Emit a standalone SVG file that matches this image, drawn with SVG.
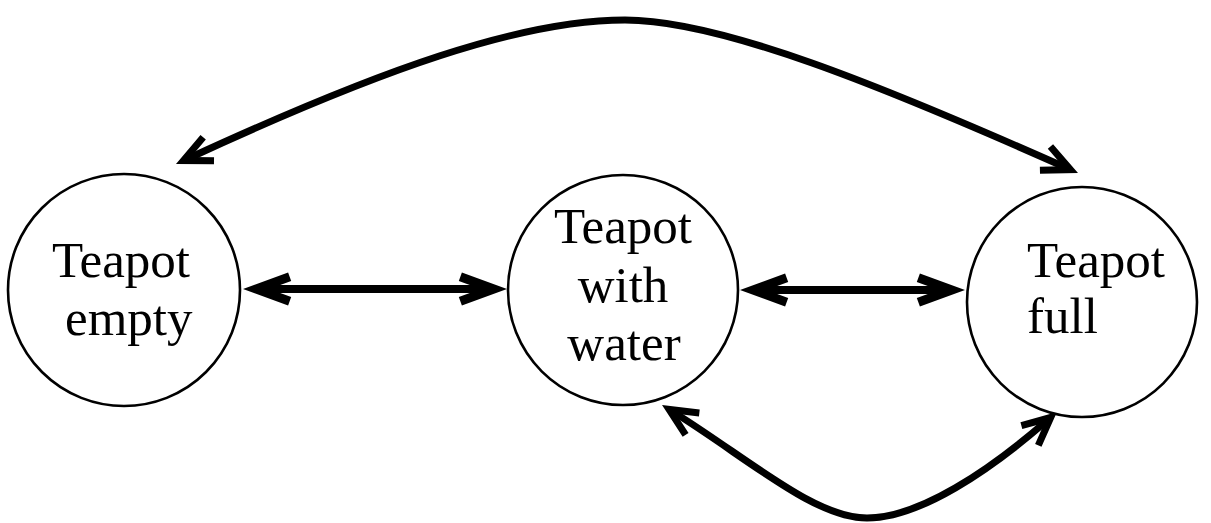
<svg xmlns="http://www.w3.org/2000/svg" width="1211" height="523" viewBox="0 0 1211 523">
<style>
.node circle{fill:#fff;stroke:#000;stroke-width:2.6}
.node text{font-family:"Liberation Serif","Times New Roman",serif;font-size:51px;fill:#000}
.edge{fill:none;stroke:#000}
.thick{stroke-width:8}
.curve{stroke-width:7}
</style>
<defs>
<marker id="ah" markerUnits="userSpaceOnUse" viewBox="-50 -20 52 40" refX="-20" refY="0" markerWidth="52" markerHeight="40" orient="auto-start-reverse">
<path d="M0,0 L-45.1,-16.4 L-48.2,-7.9 L-26.3,0 L-48.2,7.9 L-45.1,16.4 Z" fill="#000"/>
</marker>
<marker id="ah2" markerUnits="userSpaceOnUse" viewBox="-50 -20 52 40" refX="-14" refY="0" markerWidth="52" markerHeight="40" orient="auto-start-reverse">
<path d="M0,0 L-34.4,-16.1 L-37.4,-9.8 L-16.6,0 L-37.4,9.8 L-34.4,16.1 Z" fill="#000"/>
</marker>
</defs>
<g id="connectors">
<line class="edge thick" x1="263" y1="289" x2="487" y2="289" marker-start="url(#ah)" marker-end="url(#ah)"/>
<line class="edge thick" x1="760" y1="290" x2="945" y2="290" marker-start="url(#ah)" marker-end="url(#ah)"/>
<path class="edge curve" d="M188.7,158.2 C380,70 520,20 625,20 C720,20 880,85 1065.2,167.3" marker-start="url(#ah2)" marker-end="url(#ah2)"/>
<path class="edge curve" d="M673.9,412.4 C750,460 815,518 867,518 C920,518 990,470 1046.4,421.2" marker-start="url(#ah2)" marker-end="url(#ah2)"/>
</g>
<g id="node-empty" class="node">
<circle cx="124" cy="290" r="116"/>
<text x="52" y="277">Teapot</text>
<text x="65" y="335">empty</text>
</g>
<g id="node-water" class="node">
<circle cx="623" cy="290" r="115"/>
<text x="623" y="243" text-anchor="middle">Teapot</text>
<text x="623" y="302" text-anchor="middle">with</text>
<text x="624" y="360" text-anchor="middle">water</text>
</g>
<g id="node-full" class="node">
<circle cx="1082" cy="302" r="115"/>
<text x="1027" y="277">Teapot</text>
<text x="1027" y="333">full</text>
</g>
</svg>
